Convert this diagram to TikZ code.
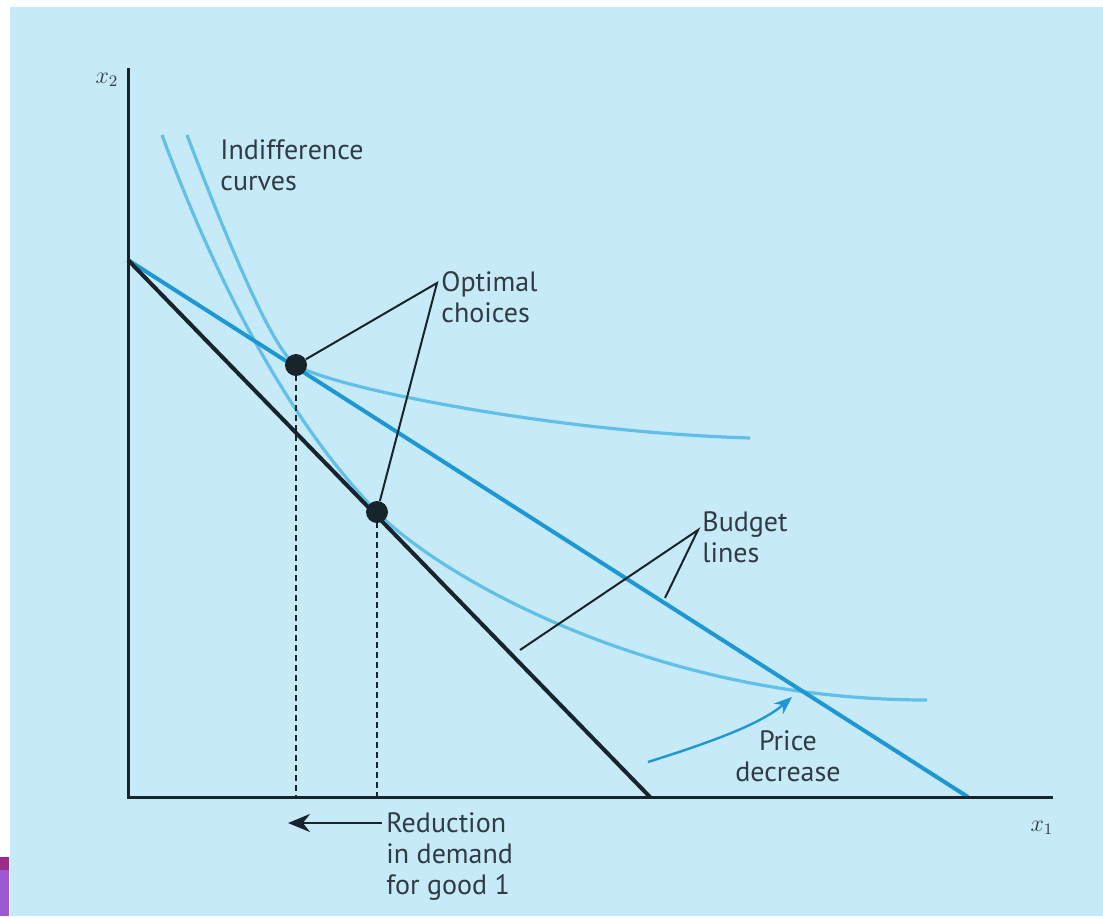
\documentclass[tikz,border=0pt]{standalone}
\usepackage{fontspec}
\setmainfont{PT Sans}
\usetikzlibrary{arrows.meta}
\definecolor{skyback}{RGB}{199,234,249}
\definecolor{indiffblue}{RGB}{96,192,233}
\definecolor{budgetblue}{RGB}{30,152,212}
\definecolor{inkdark}{RGB}{24,36,44}
\definecolor{textgray}{RGB}{48,60,68}
\definecolor{barmagenta}{RGB}{156,42,140}
\definecolor{barlilac}{RGB}{156,88,210}
\tikzset{
  axis/.style={inkdark,line width=1.5pt},
  budgetold/.style={inkdark,line width=2pt},
  budgetnew/.style={budgetblue,line width=2pt},
  indiff/.style={indiffblue,line width=1.6pt},
  drop/.style={inkdark,line width=1.1pt,dash pattern=on 3pt off 2pt},
  leader/.style={inkdark,line width=1pt},
  optdot/.style={circle,fill=inkdark,minimum size=11pt,inner sep=0pt},
  lbl/.style={font=\fontsize{14}{15.5}\selectfont,text=textgray,align=left,inner sep=0pt},
  axlbl/.style={font=\fontsize{12}{14}\selectfont,text=textgray,inner sep=0pt}
}
\begin{document}
\begin{tikzpicture}[x=0.5pt,y=-0.5pt]
\useasboundingbox (0,0) rectangle (1103,916);
\fill[white] (0,0) rectangle (1103,916);
\fill[skyback] (10,7) rectangle (1103,916);
\fill[barlilac] (0,870) rectangle (9,916);
\fill[barmagenta] (0,857) rectangle (9,870);
%
\coordinate (O) at (128,797);
\coordinate (ytop) at (128,68);
\coordinate (xend) at (1053,797);
\coordinate (A) at (128,260);
\coordinate (B1) at (650,797);
\coordinate (B2) at (968,797);
% indifference curves
\draw[indiff] (162,135) .. controls (224,302) and (297,430) .. (377,512)
  .. controls (437,574) and (650,700) .. (927,700);
\draw[indiff] (187,135) .. controls (241,277) and (277,353) .. (296,365)
  .. controls (330,387) and (550,432) .. (750,438);
% budget lines
\draw[budgetnew] (A) -- (B2);
\draw[budgetold] (A) -- (B1);
\draw[axis] (ytop) -- (O) -- (xend);
\node[axlbl] (x2) at (107,80) {$x_2$};
\node[axlbl] (x1) at (1042,828) {$x_1$};
%
\node[optdot] (p1) at (296,365) {};
\node[optdot] (p2) at (377,512) {};
\draw[drop] (p1.center) -- (p1 |- O);
\draw[drop] (p2.center) -- (p2 |- O);
%
\node[lbl,anchor=north west] (ic) at (220,139) {Indifference\\curves};
\node[lbl,anchor=north west] (oc) at (441,271) {Optimal\\choices};
\coordinate (ocapex) at (437,283);
\draw[leader] (p1) -- (ocapex) -- (p2);
\node[lbl,anchor=north west] (bl) at (702,511) {Budget\\lines};
\coordinate (blapex) at (698,530);
\coordinate (blold) at (520,650);
\coordinate (blnew) at (665,598);
\draw[leader] (blold) -- (blapex) -- (blnew);
\node[lbl,align=center,anchor=north] (pd) at (788,730) {Price\\decrease};
\coordinate (pdtail) at (648,762);
\coordinate (pdhead) at (792,697);
\draw[budgetblue,line width=1.2pt,-{Stealth[length=9pt,width=7pt]}] (pdtail) .. controls (705,744) and (760,725) .. (pdhead);
\node[lbl,anchor=north west] (rd) at (386,812) {Reduction\\in demand\\for good 1};
\coordinate (rdtail) at (382,823);
\coordinate (rdhead) at (288,823);
\draw[inkdark,line width=1.3pt,-{Stealth[length=11pt,width=9pt]}] (rdtail) -- (rdhead);
\end{tikzpicture}
\end{document}
